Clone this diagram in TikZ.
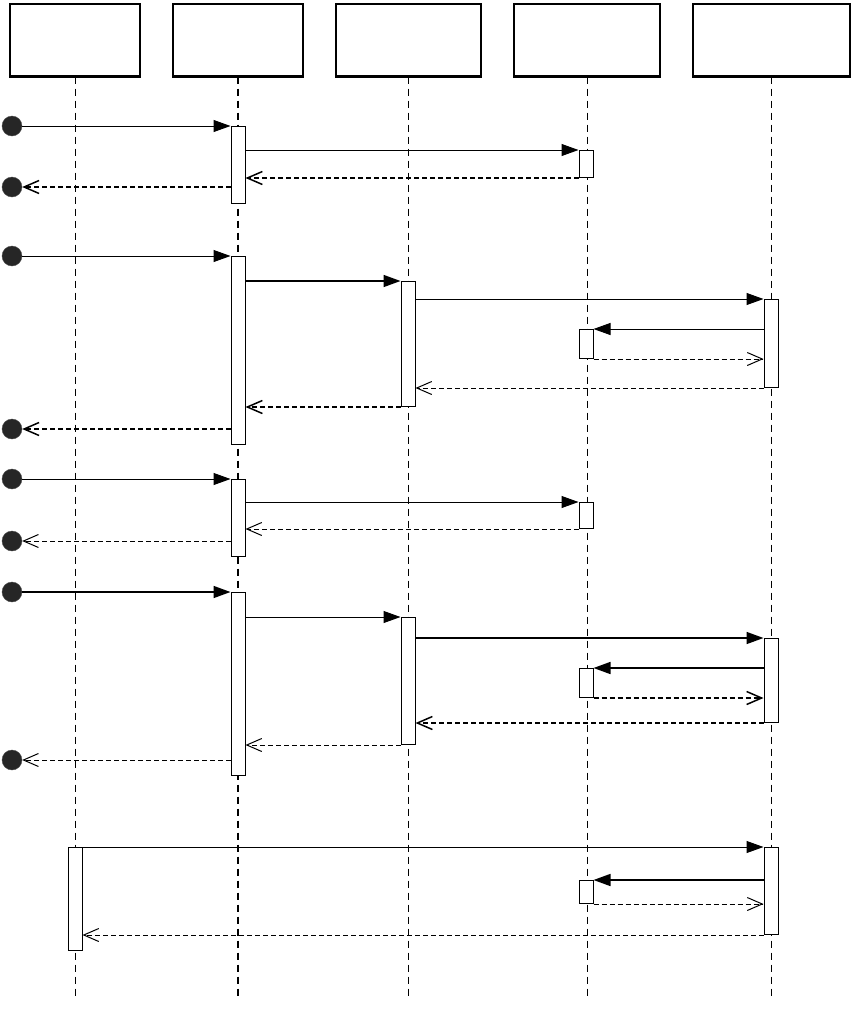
\documentclass[tikz,border=0pt]{standalone}
\usepackage{tikz}
\usetikzlibrary{arrows.meta, shapes.geometric}
\tikzstyle{head} = [rectangle, draw=black, line width=1.2pt, fill=white,
minimum height=72pt, inner sep=0pt]
\tikzstyle{actbar} = [rectangle, draw=black, line width=1pt, fill=white,
minimum width=14pt, inner sep=0pt, anchor=north]
\tikzstyle{found} = [circle, draw=black!70, fill=black!85, minimum size=20pt, inner sep=0pt]
\tikzstyle{lifeline} = [dash pattern=on 7pt off 5pt]
\tikzstyle{call} = [line width=1pt, -{Triangle[length=17pt,width=12pt]}]
\tikzstyle{reply} = [line width=1pt, dash pattern=on 5pt off 3pt, -{Straight Barb[length=15pt,width=13pt]}]
\begin{document}
\begin{tikzpicture}[x=1pt, y=-1pt]
        \useasboundingbox (0,0) rectangle (866,1012);

        % Cabeceras
        \node (hA) [head, minimum width=130pt] at (75,40) {};
        \node (hB) [head, minimum width=130pt] at (238,40) {};
        \node (hC) [head, minimum width=145pt] at (408.5,40) {};
        \node (hD) [head, minimum width=146pt] at (587,40) {};
        \node (hE) [head, minimum width=157pt] at (771.5,40) {};
        \coordinate (bottom) at (0,997);

        % Lineas de vida
        \foreach \h/\w in {hA/0.9pt, hB/1.6pt, hC/1.6pt, hD/0.9pt, hE/1.6pt}
            \draw [lifeline, line width=\w] (\h.south) -- (\h.south |- bottom);
        \foreach \h in {hA, hB, hC, hD, hE}
            \draw [line width=2pt] (\h.south west) -- (\h.south east);

        % Barras de activacion
        \node (b1) [actbar, minimum height=77pt] at (238,126) {};
        \node (c1) [actbar, minimum height=27pt] at (586,150) {};
        \node (b2) [actbar, minimum height=188pt] at (238,256) {};
        \node (d2) [actbar, minimum height=125pt] at (408,281) {};
        \node (e2) [actbar, minimum height=88pt] at (771,299) {};
        \node (c2) [actbar, minimum height=29pt] at (586,329) {};
        \node (b3) [actbar, minimum height=77pt] at (238,479) {};
        \node (c3) [actbar, minimum height=26pt] at (586,502) {};
        \node (b4) [actbar, minimum height=183pt] at (238,592) {};
        \node (d4) [actbar, minimum height=127pt] at (408,617) {};
        \node (e4) [actbar, minimum height=84pt] at (771,638) {};
        \node (c4) [actbar, minimum height=29pt] at (586,668) {};
        \node (a5) [actbar, minimum height=103pt] at (75,847) {};
        \node (e5) [actbar, minimum height=87pt] at (771,847) {};
        \node (c5) [actbar, minimum height=23pt] at (586,880) {};

        % Mensajes encontrados
        \node (f1) [found] at (12,126) {};
        \node (r1) [found] at (12,187) {};
        \node (f2) [found] at (12,256) {};
        \node (r2) [found] at (12,429) {};
        \node (f3) [found] at (12,479) {};
        \node (r3) [found] at (12,541) {};
        \node (f4) [found] at (12,592) {};
        \node (r4) [found] at (12,760) {};

        % Secuencia 1
        \draw [call] (f1) -- (b1.north west);
        \draw [call] (b1.east |- c1.north) -- (c1.north west);
        \draw [reply, line width=1.5pt] (c1.south west) -- (b1.east |- c1.south);
        \draw [reply, line width=1.5pt] (b1.west |- r1) -- (r1);

        % Secuencia 2
        \draw [call] (f2) -- (b2.north west);
        \draw [call, line width=1.6pt] (b2.east |- d2.north) -- (d2.north west);
        \draw [call] (d2.east |- e2.north) -- (e2.north west);
        \draw [call] (e2.west |- c2.north) -- (c2.north east);
        \draw [reply] (c2.south east) -- (e2.west |- c2.south);
        \draw [reply] (e2.south west) -- (d2.east |- e2.south);
        \draw [reply, line width=1.5pt] (d2.south west) -- (b2.east |- d2.south);
        \draw [reply, line width=1.5pt] (b2.west |- r2) -- (r2);

        % Secuencia 3
        \draw [call] (f3) -- (b3.north west);
        \draw [call] (b3.east |- c3.north) -- (c3.north west);
        \draw [reply] (c3.south west) -- (b3.east |- c3.south);
        \draw [reply] (b3.west |- r3) -- (r3);

        % Secuencia 4
        \draw [call, line width=1.6pt] (f4) -- (b4.north west);
        \draw [call] (b4.east |- d4.north) -- (d4.north west);
        \draw [call, line width=1.6pt] (d4.east |- e4.north) -- (e4.north west);
        \draw [call, line width=1.6pt] (e4.west |- c4.north) -- (c4.north east);
        \draw [reply, line width=1.5pt] (c4.south east) -- (e4.west |- c4.south);
        \draw [reply, line width=1.5pt] (e4.south west) -- (d4.east |- e4.south);
        \draw [reply] (d4.south west) -- (b4.east |- d4.south);
        \draw [reply] (b4.west |- r4) -- (r4);

        % Secuencia 5
        \draw [call] (a5.north east) -- (e5.north west);
        \draw [call, line width=1.6pt] (e5.west |- c5.north) -- (c5.north east);
        \draw [reply] (c5.south east) -- (e5.west |- c5.south);
        \draw [reply] (e5.south west) -- (a5.east |- e5.south);

    \end{tikzpicture}
\end{document}
